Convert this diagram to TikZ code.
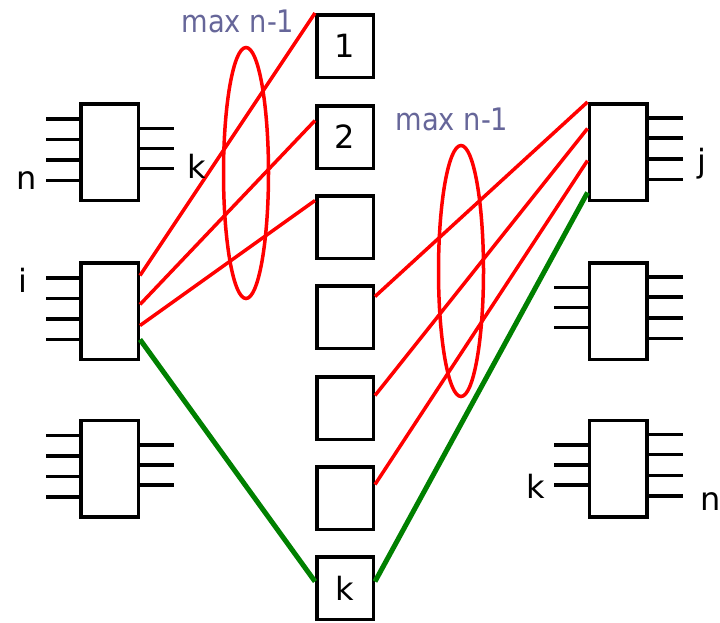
\documentclass[tikz,border=0pt]{standalone}
\usepackage{fontspec}
\setmainfont{DejaVu Sans}
\newfontfamily\maxfont[FakeStretch = 0.88]{DejaVu Sans}
\usetikzlibrary{positioning}
\tikzset{sw/.style = {draw, line width = 3.5pt, fill = white, inner sep = 0, minimum width = 57.5pt, minimum height = 96.5pt}}
\tikzset{port/.style = {draw, line width = 3.5pt, fill = white, inner sep = 0, minimum width = 56.5pt, minimum height = 62.5pt, font = \fontsize{32}{36}\selectfont}}
\tikzset{pin/.style = {line width = 3.5pt}}
\tikzset{lbl/.style = {inner sep = 0, anchor = base, font = \fontsize{32}{36}\selectfont}}
\tikzset{maxlbl/.style = {inner sep = 0, anchor = base, text = mgrey, font = \maxfont\fontsize{31}{34}\selectfont}}
\tikzset{redln/.style = {draw = mred, line width = 3.5pt}}
\tikzset{grnln/.style = {draw = mgreen, line width = 5pt}}
\definecolor{mred}{rgb}{1, 0, 0}
\definecolor{mgreen}{rgb}{0, 0.5, 0}
\definecolor{mgrey}{rgb}{0.4, 0.4, 0.6}
\begin{document}
\begin{tikzpicture}[x = 1pt, y = -1pt]
      \useasboundingbox (0, 0) rectangle (720, 622);
      % ellipses
      \draw [redln] (246, 173) ellipse [x radius = 22.5pt, y radius = 125.5pt];
      \draw [redln] (461, 271) ellipse [x radius = 22.5pt, y radius = 125.5pt];
      % switches, left and right
      \node [sw] (sa) at (109.5, 152) {};
      \node [sw] (si) at (109.5, 311) {};
      \node [sw] (sc) at (109.5, 468.5) {};
      \node [sw] (sj) at (618, 152) {};
      \node [sw] (se) at (618, 311) {};
      \node [sw] (sf) at (618, 468.5) {};
      \foreach \s in {sa, si, sc} {
        \foreach \d in {17, 37.5, 58, 78.5} {
          \draw [pin] ([yshift = -\d pt]\s.north west) -- ++(-33, 0);
        }
      }
      \foreach \s in {sa, sc} {
        \foreach \d in {26.5, 46.5, 66.5} {
          \draw [pin] ([yshift = -\d pt]\s.north east) -- ++(34, 0);
        }
      }
      \foreach \s in {se, sf} {
        \foreach \d in {26.5, 46.5, 66.5} {
          \draw [pin] ([yshift = -\d pt]\s.north west) -- ++(-34, 0);
        }
      }
      \foreach \s in {sj, se, sf} {
        \foreach \d in {16, 36, 57, 77.5} {
          \draw [pin] ([yshift = -\d pt]\s.north east) -- ++(34, 0);
        }
      }
      % middle column
      \foreach \n/\y/\t in {1/46/1, 2/137/2, 3/227/{}, 4/317/{}, 5/408/{}, 6/498/{}, 7/588/k} {
        \node [port] (p\n) at (345, \y) {\t};
      }
      % links
      \draw [redln] ([yshift = -14.5pt]si.north east) -- (p1.north west);
      \draw [redln] ([yshift = -43.5pt]si.north east) -- ([yshift = -16.5pt]p2.north west);
      \draw [redln] ([yshift = -64.5pt]si.north east) -- ([yshift = -6.5pt]p3.north west);
      \draw [grnln] ([yshift = -78.5pt]si.north east) -- ([yshift = -26.5pt]p7.north west);
      \draw [redln] ([yshift = -12.5pt]p4.north east) -- (sj.north west);
      \draw [redln] ([yshift = -20.5pt]p5.north east) -- ([yshift = -26.5pt]sj.north west);
      \draw [redln] ([yshift = -19.5pt]p6.north east) -- ([yshift = -58.5pt]sj.north west);
      \draw [grnln] ([yshift = -26.5pt]p7.north east) -- ([yshift = -90.5pt]sj.north west);
      % labels
      \node [lbl] (ln) at (27, 189) {n};
      \node [lbl] (lk) at (197, 178) {k};
      \node [lbl] (li) at (23, 292) {i};
      \node [lbl] (lj) at (702, 172) {j};
      \node [lbl] (lk2) at (536, 498) {k};
      \node [lbl] (ln2) at (711, 510) {n};
      \node [maxlbl] (lmax) at (238, 32) {max n-1};
      \node [maxlbl] (lmax2) at (452, 130) {max n-1};
    \end{tikzpicture}
\end{document}
